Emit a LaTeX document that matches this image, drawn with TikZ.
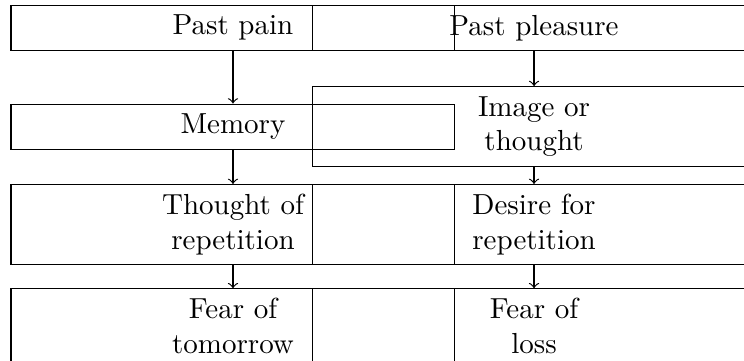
\documentclass[tikz,border=0pt]{standalone}
\usepackage{tikz}

\begin{document}
\begin{tikzpicture}[
    box/.style={draw, align=center, minimum width=5.38cm},
    op/.style={->},
  ]
  \useasboundingbox (0,0) rectangle (9.018,-4.364);
  % pain column
  \node[box] (pain) at (2.824,-0.337) {Past pain};
  \node[box] (memory) at (2.824,-1.535) {Memory};
  \node[box] (threp) at (2.824,-2.723) {Thought of\\repetition};
  \node[box] (feartom) at (2.824,-3.955) {Fear of\\tomorrow};
  % pleasure column
  \node[box] (pleasure) at (6.473,-0.337) {Past pleasure};
  \node[box] (image) at (6.473,-1.535) {Image or\\thought};
  \node[box] (desire) at (6.473,-2.723) {Desire for\\repetition};
  \node[box] (fearloss) at (6.473,-3.955) {Fear of\\loss};

  \draw[op] (pain) -- (memory);
  \draw[op] (memory) -- (threp);
  \draw[op] (threp) -- (feartom);
  \draw[op] (pleasure) -- (image);
  \draw[op] (image) -- (desire);
  \draw[op] (desire) -- (fearloss);
\end{tikzpicture}
\end{document}
